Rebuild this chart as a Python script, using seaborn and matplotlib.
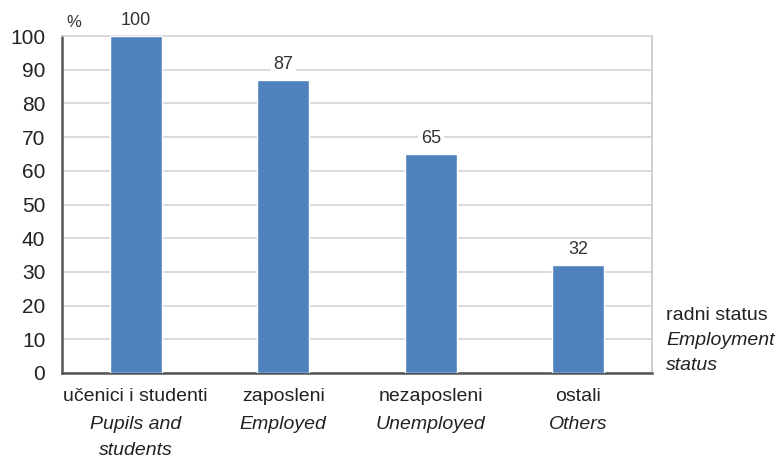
import matplotlib
matplotlib.use("Agg")
import matplotlib.pyplot as plt
import seaborn as sns
import pandas as pd

# Data
categories = ["učenici i studenti", "zaposleni", "nezaposleni", "ostali"]
categories_en = [["Pupils and", "students"], ["Employed"], ["Unemployed"], ["Others"]]
values = [100, 87, 65, 32]
y_ticks = [0, 10, 20, 30, 40, 50, 60, 70, 80, 90, 100]

df = pd.DataFrame({"status": categories, "pct": values})

sns.set_theme(style="white")
plt.rcParams["font.family"] = ["Liberation Sans Narrow", "Liberation Sans", "DejaVu Sans"]

fig = plt.figure(figsize=(7.84, 4.63), dpi=100)
ax = fig.add_axes([62 / 784, 1 - 373 / 463, 590 / 784, 337 / 463])

sns.barplot(data=df, x="status", y="pct", color="#4f81bd", width=0.35,
            saturation=1, ax=ax, zorder=3)

ax.set_ylim(0, 100)
ax.set_xlim(-0.5, len(categories) - 0.5)
ax.set_yticks(y_ticks)
ax.set_yticklabels([str(t) for t in y_ticks], fontsize=15, color="#222222")
ax.tick_params(axis="y", length=0, pad=12)
ax.tick_params(axis="x", length=0)
ax.set_xticklabels([])
ax.set_xlabel("")
ax.set_ylabel("")
ax.grid(axis="y", color="#d4d4d4", linewidth=1.2, zorder=0)

for side in ["left", "bottom"]:
    ax.spines[side].set_color("#555555")
    ax.spines[side].set_linewidth(1.8)
ax.spines["right"].set_color("#c8c8c8")
ax.spines["top"].set_color("#d4d4d4")
ax.spines["top"].set_linewidth(1.2)

# value labels
for i, v in enumerate(values):
    ax.annotate(str(v), (i, v), xytext=(0, 11), textcoords="offset points",
                ha="center", va="center", fontsize=13, color="#333333",
                bbox=dict(boxstyle="square,pad=0.15", fc="white", ec="none"),
                zorder=5)

# x labels, two languages (one text per line)
xt = ax.get_xaxis_transform()
line_y = [-0.071, -0.154, -0.231]
for i, (hr, en) in enumerate(zip(categories, categories_en)):
    ax.text(i, line_y[0], hr, transform=xt, ha="center", va="center",
            fontsize=14, color="#222222")
    for j, part in enumerate(en):
        ax.text(i, line_y[j + 1], part, transform=xt, ha="center", va="center",
                fontsize=14, style="italic", color="#222222")

# axis titles
ax.text(0.02, 1.04, "%", transform=ax.transAxes, ha="center", va="center",
        fontsize=12, color="#333333")
ax.text(1.024, 0.172, "radni status", transform=ax.transAxes, ha="left",
        va="center", fontsize=14, color="#222222")
ax.text(1.024, 0.095, "Employment", transform=ax.transAxes, ha="left",
        va="center", fontsize=14, style="italic", color="#222222")
ax.text(1.024, 0.021, "status", transform=ax.transAxes, ha="left",
        va="center", fontsize=14, style="italic", color="#222222")

fig.savefig("out.png", dpi=100)
